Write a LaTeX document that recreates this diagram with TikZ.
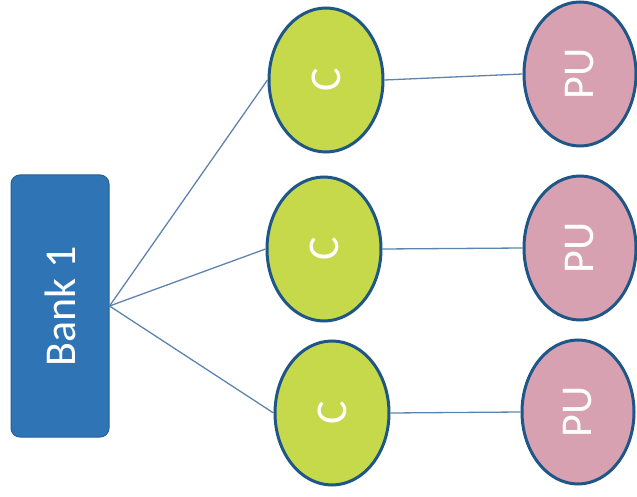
\documentclass[tikz,border=0pt]{standalone}
\usepackage{fontspec}
\setmainfont{Carlito}
\usetikzlibrary{shapes.geometric}
\definecolor{bankblue}{HTML}{2F74B5}
\definecolor{bankedge}{HTML}{255E95}
\definecolor{cgreen}{HTML}{C5D94B}
\definecolor{pupink}{HTML}{D7A1B2}
\definecolor{ringblue}{HTML}{1E5688}
\definecolor{wireblue}{HTML}{5E84AE}
\begin{document}
\begin{tikzpicture}[x=1pt,y=-1pt]
\tikzstyle{every node}+=[inner sep=0pt, text=white, font=\fontsize{44}{48}\selectfont]
\tikzstyle{bankbox}=[rectangle, rounded corners=9pt, fill=bankblue, draw=bankedge, line width=1pt, minimum width=98pt, minimum height=262pt]
\tikzstyle{cnode}=[ellipse, fill=cgreen, draw=ringblue, line width=3pt, minimum width=114pt, minimum height=144pt]
\tikzstyle{punode}=[ellipse, fill=pupink, draw=ringblue, line width=3pt, minimum width=112pt, minimum height=144pt]
\tikzstyle{wire}=[draw=wireblue, line width=1.3pt]
\useasboundingbox (0,0) rectangle (637,497);
\node [bankbox] (bank) at (60,306) {\rotatebox{90}{Bank 1}};
\node [cnode] (c1) at (326,80) {\rotatebox{90}{C}};
\node [cnode] (c2) at (324,249) {\rotatebox{90}{C}};
\node [cnode] (c3) at (332,413) {\rotatebox{90}{C}};
\node [punode] (pu1) at (580,74) {\rotatebox{90}{PU}};
\node [punode] (pu2) at (580,248) {\rotatebox{90}{PU}};
\node [punode] (pu3) at (578,412) {\rotatebox{90}{PU}};
\draw [wire] (bank.east) -- (c1.west);
\draw [wire] (bank.east) -- (c2.west);
\draw [wire] (bank.east) -- (c3.west);
\draw [wire] (c1.east) -- (pu1.west);
\draw [wire] (c2.east) -- (pu2.west);
\draw [wire] (c3.east) -- (pu3.west);
\end{tikzpicture}
\end{document}
